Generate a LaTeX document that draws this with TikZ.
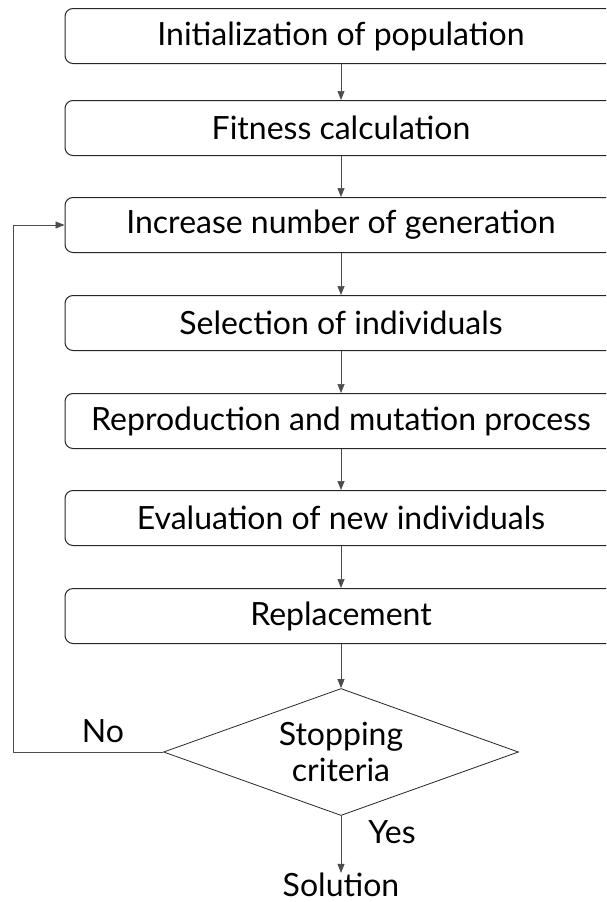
\documentclass[tikz,border=0pt]{standalone}
\usepackage{fontspec}
\setmainfont{Lato}
\usetikzlibrary{arrows.meta, positioning, shapes.geometric}

\begin{document}
\begin{tikzpicture}[x=1pt,y=-1pt,>={Triangle[length=9pt,width=7pt]},font=\fontsize{32}{36}\selectfont]
    \tikzstyle{process}=[draw=black!85, line width=1pt, rounded corners=8pt, minimum width=552pt, minimum height=55pt, inner sep=0pt]
    \tikzstyle{decision}=[diamond, draw=black!85, line width=0.8pt, aspect=2.8, minimum width=355pt, minimum height=127pt, inner sep=0pt, align=center]
    \tikzstyle{link}=[->, draw=black!70, line width=0.7pt]
    \tikzstyle{label}=[inner sep=0pt]

    \useasboundingbox (0,0) rectangle (606,902);
    \clip (0,0) rectangle (606,902);

    \node[process] (B-1) at (341,36) {Initialization of population};
    \node[process] (B-2) at (341,128) {Fitness calculation};
    \node[process] (B-3) at (341,225) {Increase number of generation};
    \node[process] (B-4) at (341,323) {Selection of individuals};
    \node[process] (B-5) at (341,421) {Reproduction and mutation process};
    \node[process] (B-6) at (341,518) {Evaluation of new individuals};
    \node[process] (B-7) at (341,616) {Replacement};

    \node[decision] (D) at (341,752) {Stopping\\criteria};
    \node[label] (S) at (341,885) {Solution};

    \foreach \i/\j in {1/2,2/3,3/4,4/5,5/6,6/7}
        \draw[link] (B-\i) -- (B-\j);
    \draw[link] (B-7) -- (D);
    \draw[link] (D) -- (S);

    \coordinate (L) at (13,752);
    \draw[link] (D.west) -- (L) |- (B-3.west);

    \node[label] (N) at (103,731) {No};
    \node[label] (Y) at (392,832) {Yes};
\end{tikzpicture}
\end{document}
